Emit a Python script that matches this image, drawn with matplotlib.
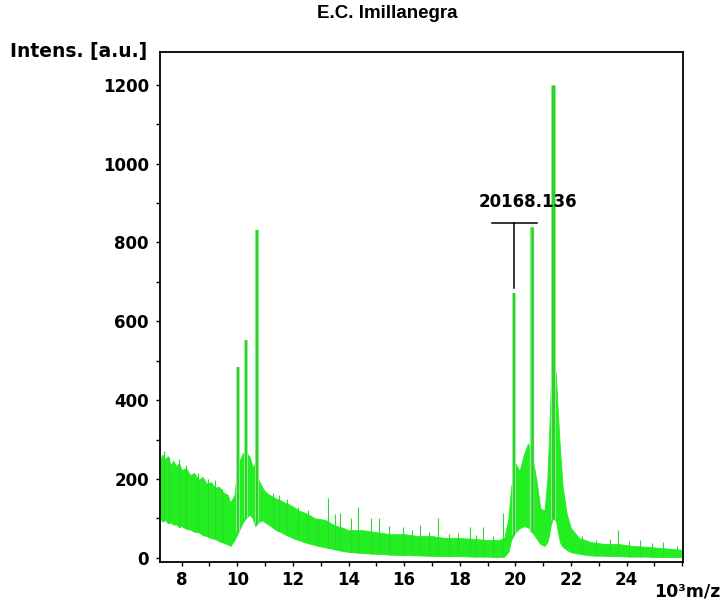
import numpy as np
import matplotlib.pyplot as plt
from matplotlib.ticker import MultipleLocator

# envelope of the dense noise band (10^3 m/z, intensity)
env_x = [7.22, 7.3, 7.4, 7.5, 7.6, 7.7, 7.8, 7.9, 8.0, 8.15, 8.3, 8.45, 8.6, 8.75,
         8.9, 9.05, 9.2, 9.35, 9.5, 9.65, 9.75, 9.9, 10.0, 10.1,
         10.2, 10.3, 10.45, 10.55, 10.65, 10.75, 10.9, 11.0, 11.1, 11.25, 11.4, 11.55,
         11.7, 11.85, 12.0, 12.2, 12.4, 12.6, 12.8, 13.0, 13.2, 13.4, 13.6, 13.8, 14.0,
         14.5, 15.0, 15.5, 16.0, 16.5, 17.0, 17.5, 18.0, 18.5,
         19.0, 19.4, 19.6, 19.75, 19.85, 20.0, 20.15, 20.3, 20.45, 20.6, 20.75, 20.9,
         21.05, 21.15, 21.22, 21.28, 21.35, 21.45, 21.52, 21.6, 21.7, 21.85, 22.0, 22.3,
         22.7, 23.2, 23.7, 24.2, 24.7, 25.2, 25.7, 26.04]
env_hi = [245, 262, 250, 258, 235, 246, 232, 240, 222, 228, 210, 215, 198, 205,
          188, 192, 178, 180, 165, 160, 140, 160, 230, 250,
          265, 270, 255, 230, 240, 200, 178, 168, 162, 156, 150, 146,
          140, 136, 130, 120, 115, 108, 100, 98, 95, 86, 80, 76, 70,
          70, 65, 60, 60, 55, 55, 50, 50, 48,
          45, 45, 50, 100, 180, 240, 220, 260, 290, 260, 200, 125,
          120, 200, 320, 450, 490, 470, 380, 280, 180, 110, 75, 50,
          40, 35, 35, 30, 28, 25, 22, 20]
env_lo = [100, 92, 96, 88, 90, 84, 85, 78, 80, 74, 72, 66, 65, 58,
          55, 50, 48, 42, 38, 34, 30, 45, 60, 75,
          90, 100, 110, 100, 80, 90, 95, 90, 85, 78, 70, 66,
          60, 55, 50, 45, 40, 36, 32, 29, 26, 23, 20, 17, 15,
          12, 10, 8, 7, 6, 5, 4, 4, 3,
          3, 2, 3, 15, 45, 65, 75, 80, 78, 65, 50, 35,
          30, 40, 60, 85, 100, 95, 70, 40, 28, 20, 14, 10,
          6, 5, 4, 3, 3, 2, 2, 2]

# noise spikes above the band
spk_x = [7.35, 7.55, 7.9, 8.15, 8.6, 8.95, 9.2, 9.45, 11.3, 11.5, 11.8, 12.2, 12.55,
         12.9, 13.26, 13.5, 13.7, 14.1, 14.35, 14.8, 15.1, 15.45, 15.96, 16.3, 16.57,
         16.9, 17.2, 17.6, 17.95, 18.37, 18.6, 18.83, 19.2, 19.56, 22.4, 22.9, 23.4,
         23.69, 24.1, 24.5, 24.9, 25.3, 25.8]
spk_y = [270, 255, 250, 235, 215, 200, 197, 175, 165, 159, 150, 129, 120,
         96, 151, 110, 113, 100, 129, 101, 101, 80, 78, 70, 83,
         65, 101, 60, 62, 78, 58, 78, 55, 113, 55, 45, 48,
         70, 42, 45, 38, 40, 30]

# main peaks
peak_x = [10.03, 10.31, 10.71, 19.95, 20.59, 21.36]
peak_y = [484, 552, 832, 672, 839, 1200]
peak_w = [1.4, 1.4, 1.6, 1.4, 1.8, 2.2]

label_peak = 3
label_text = "20168.136"

green = "#22ee22"
dark = "#33cc33"

fig = plt.figure(figsize=(7.23, 6.04), dpi=100)
ax = fig.add_axes([0.2213, 0.0700, 0.7238, 0.8444])

ax.fill_between(env_x, env_lo, env_hi, color=green, lw=0.6, edgecolor=green)
spk_base = np.interp(spk_x, env_x, env_lo)
ax.vlines(spk_x, spk_base, spk_y, color="#2fd82f", lw=0.8)
pk_base = np.interp(peak_x, env_x, env_lo)
ax.vlines(peak_x, pk_base, peak_y, color="#8af48a", lw=np.array(peak_w) + 1.4)
ax.vlines(peak_x, pk_base, peak_y, color=dark, lw=peak_w)

# peak label marker
px, py = peak_x[label_peak], peak_y[label_peak]
ax.plot([px - 0.8, px + 0.82], [849, 849], color="black", lw=1.1)
ax.plot([px, px], [849, py + 12], color="black", lw=1.1)
ax.text(px + 0.52, 880, label_text, ha="center", va="bottom",
        fontsize=12, fontweight="bold")

ax.set_xlim(7.22, 26.04)
ax.set_ylim(-10, 1284)
ax.set_xticks([8, 10, 12, 14, 16, 18, 20, 22, 24])
ax.xaxis.set_minor_locator(MultipleLocator(1))
ax.set_yticks([0, 200, 400, 600, 800, 1000, 1200])
ax.yaxis.set_minor_locator(MultipleLocator(100))
ax.tick_params(which="both", direction="out", length=3, width=1)
ax.tick_params(axis="x", pad=4, labelsize=12)
ax.tick_params(axis="y", pad=5, labelsize=12)
for lab in ax.get_xticklabels() + ax.get_yticklabels():
    lab.set_fontweight("bold")
for s in ax.spines.values():
    s.set_linewidth(1.3)

fig.text(387 / 723, 1 - 13 / 604, "E.C. Imillanegra", ha="center", va="center",
         fontsize=13.5, fontweight="bold", family="Liberation Sans")
fig.text(10 / 723, 1 - 51 / 604, "Intens. [a.u.]", ha="left", va="center",
         fontsize=13.5, fontweight="bold")
fig.text(720 / 723, 1 - 592 / 604, "10³m/z", ha="right", va="center",
         fontsize=12.5, fontweight="bold")

fig.savefig("out.png", dpi=100)
